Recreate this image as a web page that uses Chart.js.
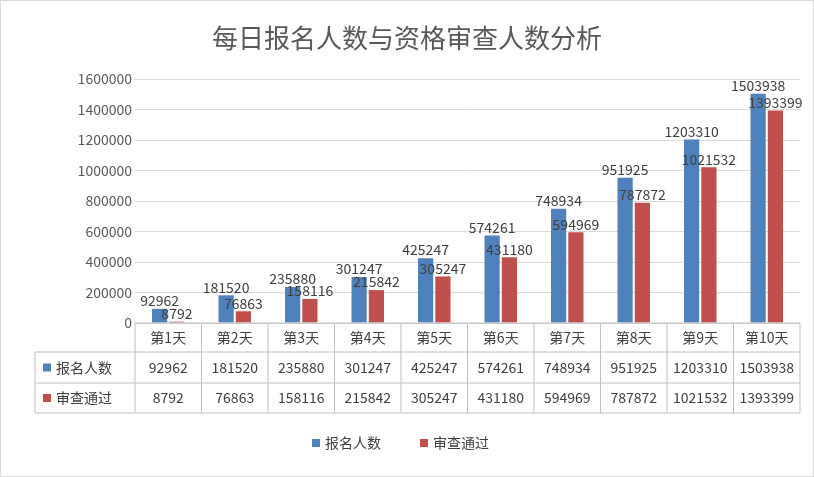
<!DOCTYPE html>
<html><head><meta charset="utf-8">
<script src="https://cdn.jsdelivr.net/npm/chart.js@4/dist/chart.umd.min.js"></script>
<style>body{margin:0;background:#fff}#wrap{width:814px;height:477px;position:relative}</style>
</head><body><div id="wrap"><canvas id="c"></canvas></div>
<script>
const days = ['第1天','第2天','第3天','第4天','第5天','第6天','第7天','第8天','第9天','第10天'];
const signups = [92962,181520,235880,301247,425247,574261,748934,951925,1203310,1503938];
const passed = [8792,76863,158116,215842,305247,431180,594969,787872,1021532,1393399];
const seriesNames = ['报名人数','审查通过'];
const colors = ['#4F81BD','#C0504D'];
const FONT = '"Noto Sans CJK SC", "Noto Sans", sans-serif';

// title, data labels, data table, legend
const extras = {
    id: 'extras',
    afterDatasetsDraw(chart) {
        const ctx = chart.ctx;
        const x = chart.scales.x;
        const area = chart.chartArea;
        ctx.save();
        ctx.strokeStyle = '#D9D9D9';
        ctx.strokeRect(0.5, 0.5, 813, 476);
        ctx.fillStyle = '#595959';
        ctx.font = '26px ' + FONT;
        ctx.textAlign = 'center';
        ctx.textBaseline = 'middle';
        ctx.fillText('每日报名人数与资格审查人数分析', 407, 38);

        // labels above bars
        ctx.font = '14px ' + FONT;
        ctx.fillStyle = '#404040';
        ctx.textBaseline = 'bottom';
        chart.data.datasets.forEach((ds, i) => {
            chart.getDatasetMeta(i).data.forEach((bar, j) => {
                ctx.fillText(String(ds.data[j]), bar.x, bar.y - 1);
            });
        });

        // data table
        const rows = [area.bottom, area.bottom + 29, area.bottom + 60, area.bottom + 90];
        const left = 35;
        const step = (area.right - area.left) / days.length;
        ctx.strokeStyle = '#BFBFBF';
        ctx.lineWidth = 1;
        ctx.beginPath();
        ctx.moveTo(area.left, rows[0]); ctx.lineTo(area.right, rows[0]);
        for (let r = 1; r < 4; r++) { ctx.moveTo(left, rows[r]); ctx.lineTo(area.right, rows[r]); }
        ctx.moveTo(left, rows[1]); ctx.lineTo(left, rows[3]);
        for (let k = 0; k <= days.length; k++) {
            const px = area.left + k * step;
            ctx.moveTo(px, rows[0]); ctx.lineTo(px, rows[3]);
        }
        ctx.stroke();
        ctx.textBaseline = 'middle';
        ctx.fillStyle = '#404040';
        ctx.font = '14px ' + FONT;
        days.forEach((d, j) => ctx.fillText(d, x.getPixelForValue(j), (rows[0] + rows[1]) / 2));
        [signups, passed].forEach((arr, i) => {
            const cy = (rows[i + 1] + rows[i + 2]) / 2;
            ctx.fillStyle = colors[i];
            ctx.fillRect(43, cy - 4, 8, 8);
            ctx.fillStyle = '#404040';
            ctx.textAlign = 'left';
            ctx.fillText(seriesNames[i], 56, cy);
            ctx.textAlign = 'center';
            arr.forEach((v, j) => ctx.fillText(String(v), x.getPixelForValue(j), cy));
        });

        // legend
        ctx.textAlign = 'left';
        const ly = 443;
        [[312, 0], [420, 1]].forEach(([lx, i]) => {
            ctx.fillStyle = colors[i];
            ctx.fillRect(lx, ly - 4, 8, 8);
            ctx.fillStyle = '#404040';
            ctx.fillText(seriesNames[i], lx + 13, ly);
        });
        ctx.restore();
    }
};

new Chart(document.getElementById('c'), {
    type: 'bar',
    data: {
        labels: days,
        datasets: [
            { label: seriesNames[0], data: signups, backgroundColor: colors[0] },
            { label: seriesNames[1], data: passed, backgroundColor: colors[1] }
        ]
    },
    options: {
        responsive: true,
        maintainAspectRatio: false,
        animation: false,
        layout: { padding: { top: 79, bottom: 154, right: 14, left: 0 } },
        datasets: { bar: { categoryPercentage: 0.52, barPercentage: 0.88 } },
        plugins: { legend: { display: false }, tooltip: { enabled: false } },
        scales: {
            x: { display: false },
            y: {
                min: 0, max: 1600000,
                ticks: { stepSize: 200000, color: '#595959', font: { family: FONT, size: 14 }, callback: v => String(v) },
                grid: { color: '#D9D9D9', drawTicks: false },
                border: { display: false },
                afterFit(s) { s.width = 135; }
            }
        }
    },
    plugins: [extras]
});
</script></body></html>
